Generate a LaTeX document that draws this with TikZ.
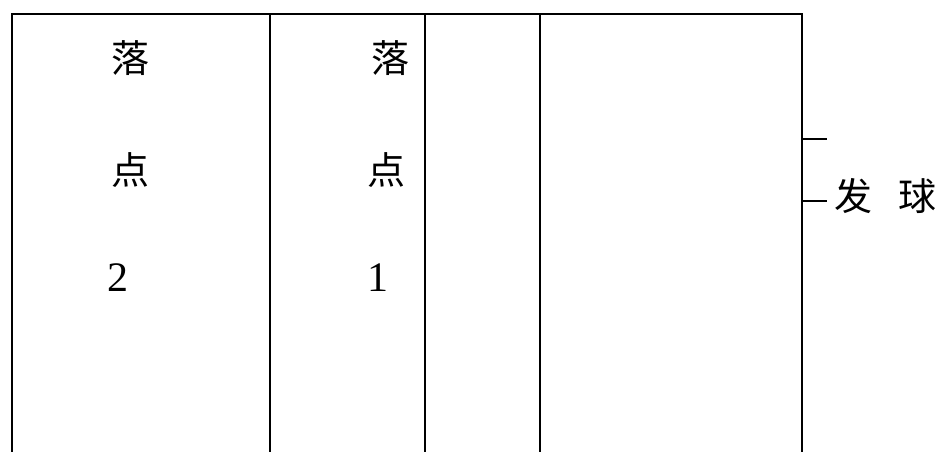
\documentclass[tikz,border=0pt]{standalone}
\usepackage{fontspec}
\setmainfont{Liberation Serif}
\newfontfamily\cjk{Noto Sans CJK SC}
\begin{document}
\begin{tikzpicture}[x=1pt,y=-1pt,
  court/.style={line width=1.6pt,line cap=rect},
  hanzi/.style={font=\cjk\fontsize{38}{40}\selectfont,inner sep=0pt},
  digit/.style={font=\fontsize{42}{44}\selectfont,inner sep=0pt}]
\useasboundingbox (0,0) rectangle (938,452);
% court outline
\coordinate (tl) at (12,14);
\coordinate (tr) at (802,14);
\coordinate (bl) at (12,452);
\coordinate (br) at (802,452);
\draw[court] (bl) -- (tl) -- (tr) -- (br);
\foreach \x/\n in {270/a,425/b,540/c}{
  \coordinate (\n t) at (\x,14);
  \coordinate (\n b) at (\x,452);
  \draw[court] (\n t) -- (\n b);
}
% ticks
\coordinate (t1a) at (802,139);
\coordinate (t1b) at (827,139);
\coordinate (t2a) at (802,201);
\coordinate (t2b) at (827,201);
\draw[line width=1.4pt] (t1a) -- (t1b);
\draw[line width=1.4pt] (t2a) -- (t2b);
% texts
\node[hanzi] (luo2) at (130,58) {落};
\node[hanzi] (dian2) at (130,170) {点};
\node[digit] (n2) at (118,278) {2};
\node[hanzi] (luo1) at (390,58) {落};
\node[hanzi] (dian1) at (386,170) {点};
\node[digit] (n1) at (378,278) {1};
\node[hanzi] (fa) at (853,196) {发};
\node[hanzi] (qiu) at (917,196) {球};
\end{tikzpicture}
\end{document}
